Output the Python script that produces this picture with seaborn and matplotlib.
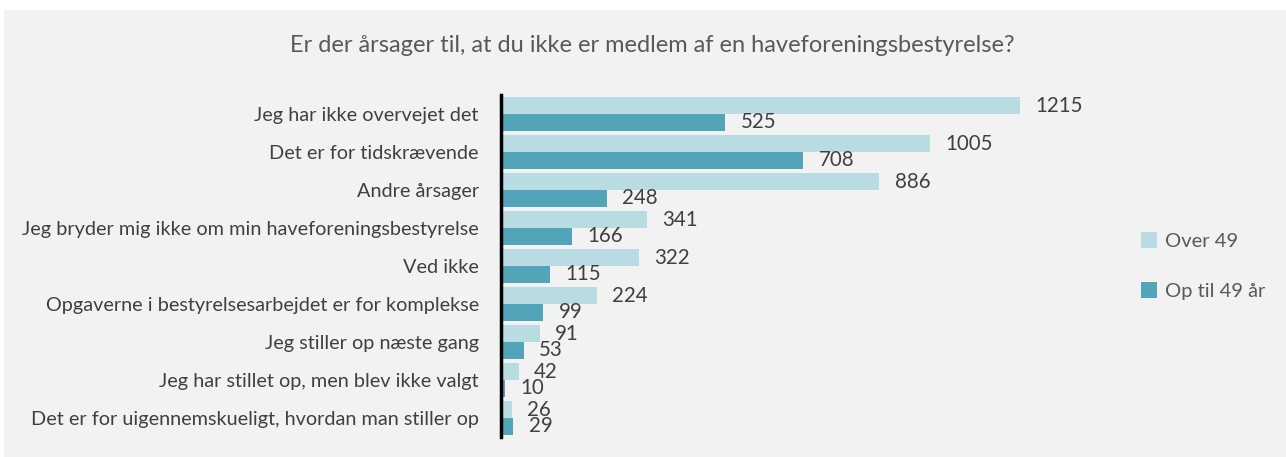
import pandas as pd
import seaborn as sns
import matplotlib.pyplot as plt
from matplotlib.patches import Rectangle

categories = [
    "Jeg har ikke overvejet det",
    "Det er for tidskrævende",
    "Andre årsager",
    "Jeg bryder mig ikke om min haveforeningsbestyrelse",
    "Ved ikke",
    "Opgaverne i bestyrelsesarbejdet er for komplekse",
    "Jeg stiller op næste gang",
    "Jeg har stillet op, men blev ikke valgt",
    "Det er for uigennemskueligt, hvordan man stiller op",
]
over_49 = [1215, 1005, 886, 341, 322, 224, 91, 42, 26]
op_til_49 = [525, 708, 248, 166, 115, 99, 53, 10, 29]
series = ["Over 49", "Op til 49 år"]

df = pd.concat([
    pd.DataFrame({"arsag": categories, "gruppe": series[0], "antal": over_49}),
    pd.DataFrame({"arsag": categories, "gruppe": series[1], "antal": op_til_49}),
])

sns.set_style("white")
plt.rcParams["font.family"] = ["Lato", "DejaVu Sans"]
text_col = "#404040"
bg = "#F2F2F2"

fig = plt.figure(figsize=(12.86, 4.57), dpi=100, facecolor="white")
fig.patches.append(Rectangle((4 / 1286, 0), 1, 1 - 10 / 457, transform=fig.transFigure,
                             facecolor=bg, edgecolor="none", zorder=-10))
ax = fig.add_axes([501 / 1286, 1 - 437 / 457, 598 / 1286, 342 / 457])
ax.set_facecolor(bg)

sns.barplot(data=df, y="arsag", x="antal", hue="gruppe", hue_order=series,
            order=categories, palette=["#B9DCE2", "#52A5B8"], width=0.87,
            gap=0, orient="h", ax=ax, saturation=1, edgecolor="none")

for cont in ax.containers:
    ax.bar_label(cont, padding=11, fontsize=14.8, color=text_col)

ax.set_xlim(0, 1400)
ax.set_ylim(8.5, -0.5)
ax.set_xlabel("")
ax.set_ylabel("")
ax.set_xticks([])
ax.tick_params(axis="y", length=0, pad=16, labelsize=14.3, labelcolor=text_col)
for s in ["top", "right", "bottom"]:
    ax.spines[s].set_visible(False)
ax.spines["left"].set_color("black")
ax.spines["left"].set_linewidth(2.5)

ax.legend(loc="center left", bbox_to_anchor=(1123 / 1286, 1 - 266 / 457),
          bbox_transform=fig.transFigure, frameon=False, fontsize=14.5,
          handlelength=0.8, handleheight=0.8, handletextpad=0.4,
          labelspacing=1.6, labelcolor="#595959")

fig.text(652 / 1286, 1 - 45 / 457,
         "Er der årsager til, at du ikke er medlem af en haveforeningsbestyrelse?",
         ha="center", va="center", fontsize=17, color="#595959")

fig.savefig("out.png", dpi=100, facecolor=fig.get_facecolor())
plt.close()
